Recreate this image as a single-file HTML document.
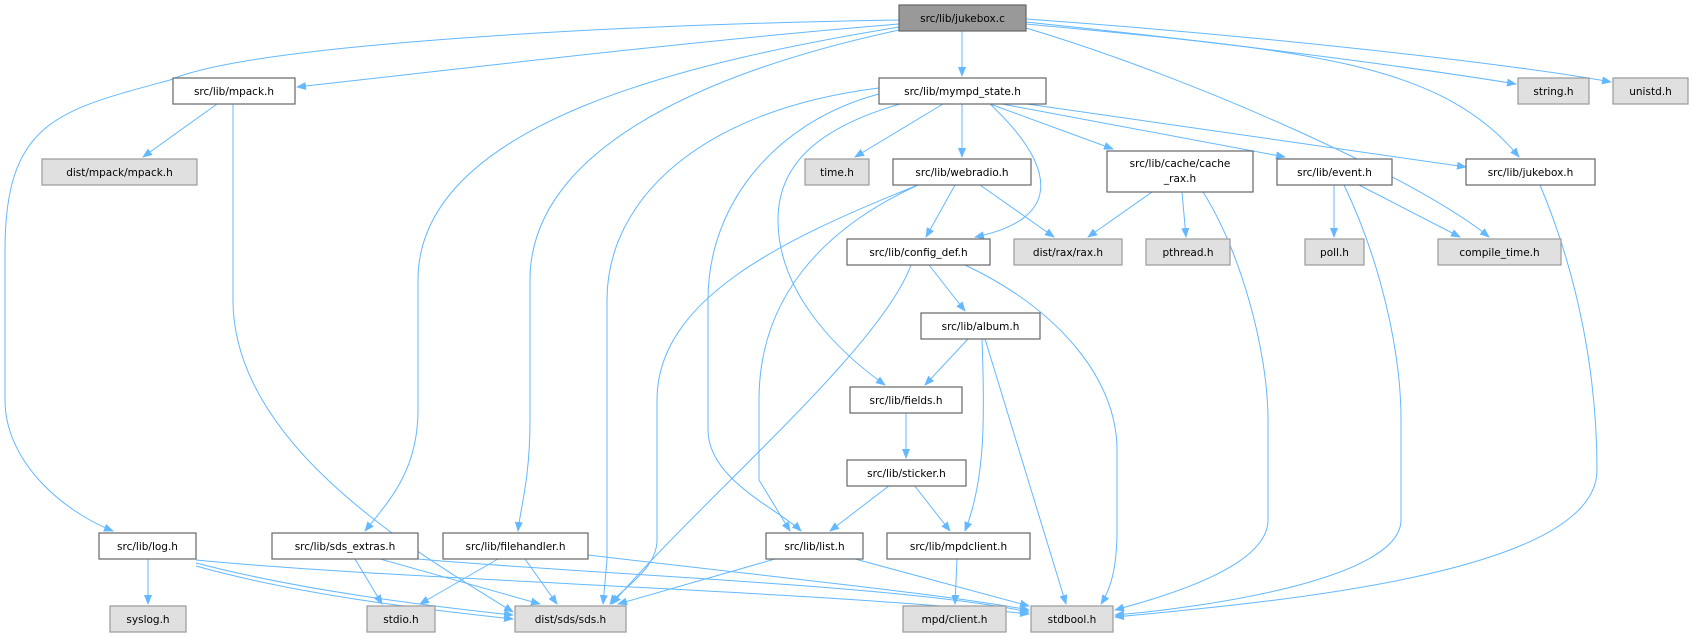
<!DOCTYPE html>
<html><head><meta charset="utf-8"><style>
html,body{margin:0;padding:0;background:#fff;}
svg{display:block;}
text{font-family:"DejaVu Sans","Liberation Sans",sans-serif;font-size:10.5px;fill:#000;}
.e{fill:none;stroke:#63b8ff;stroke-width:1;marker-end:url(#a);}
.w{fill:#fff;stroke:#666;stroke-width:1.2;}
.g{fill:#e0e0e0;stroke:#999;stroke-width:1.2;}
</style></head><body>
<svg width="1693" height="637" viewBox="0 0 1693 637" xmlns="http://www.w3.org/2000/svg">
<defs><marker id="a" markerWidth="10" markerHeight="8" refX="9" refY="4" orient="auto" markerUnits="userSpaceOnUse"><path d="M0,0 L10,4 L0,8 z" fill="#63b8ff"/></marker></defs>
<g>
<path class="e" d="M899,20 C600,25 250,45 170,80 C60,110 5,120 5,250 L5,400 C5,460 60,510 113,531"/>
<path class="e" d="M899,24 C700,40 450,70 297,87"/>
<path class="e" d="M899,27 C700,60 418,120 418,280 L418,410 C418,470 390,500 365,531"/>
<path class="e" d="M899,30 C760,60 530,130 530,280 L530,420 C530,480 520,510 518,531"/>
<path class="e" d="M962,31 L962,76"/>
<path class="e" d="M1026,22 C1200,40 1400,65 1516,84"/>
<path class="e" d="M1026,19 C1250,35 1500,62 1611,82"/>
<path class="e" d="M1026,24 C1300,50 1440,60 1519,157"/>
<path class="e" d="M1026,28 C1200,80 1420,180 1489,237"/>
<path class="e" d="M217,104 L143,157"/>
<path class="e" d="M233,104 L233,300 C233,450 430,560 513,612"/>
<path class="e" d="M943,104 L855,157"/>
<path class="e" d="M962,104 L962,157"/>
<path class="e" d="M990,104 L1113,149"/>
<path class="e" d="M1002,104 L1285,157"/>
<path class="e" d="M1027,104 L1466,167"/>
<path class="e" d="M990,104 C1060,170 1060,220 975,237"/>
<path class="e" d="M900,104 C810,130 778,170 778,220 C778,300 850,360 885,385"/>
<path class="e" d="M879,94 C780,120 708,200 708,300 L708,430 C708,480 780,510 801,531"/>
<path class="e" d="M879,88 C700,110 607,200 607,300 L607,560 L603,604"/>
<path class="e" d="M955,185 L926,237"/>
<path class="e" d="M980,185 L1054,237"/>
<path class="e" d="M918,185 C780,240 657,300 657,400 L657,540 C657,570 620,590 610,604"/>
<path class="e" d="M918,185 C820,230 759,300 759,400 L759,480 L790,531"/>
<path class="e" d="M1152,192 L1088,237"/>
<path class="e" d="M1182,192 L1186,237"/>
<path class="e" d="M1203,192 C1240,250 1268,350 1268,420 L1268,520 C1268,570 1150,600 1115,610"/>
<path class="e" d="M1334,185 L1334,237"/>
<path class="e" d="M1359,185 L1460,237"/>
<path class="e" d="M1344,185 C1380,260 1401,350 1401,420 L1401,520 C1401,580 1200,608 1115,615"/>
<path class="e" d="M1540,185 C1580,280 1597,380 1597,470 C1597,570 1300,600 1115,617"/>
<path class="e" d="M929,265 L965,311"/>
<path class="e" d="M911,265 C880,350 700,500 612,604"/>
<path class="e" d="M965,265 C1060,310 1117,380 1117,450 L1117,530 C1117,570 1110,590 1101,604"/>
<path class="e" d="M968,339 L925,385"/>
<path class="e" d="M982,339 C985,420 985,480 965,531"/>
<path class="e" d="M985,339 L1066,604"/>
<path class="e" d="M906,412 L906,458"/>
<path class="e" d="M890,485 L830,531"/>
<path class="e" d="M914,485 L950,531"/>
<path class="e" d="M148,559 L148,604"/>
<path class="e" d="M196,563 C300,590 420,605 513,615"/>
<path class="e" d="M196,566 C300,595 420,609 513,619"/>
<path class="e" d="M196,560 C400,580 800,590 1029,614"/>
<path class="e" d="M355,559 L382,604"/>
<path class="e" d="M380,559 L540,604"/>
<path class="e" d="M418,559 C600,575 900,585 1029,612"/>
<path class="e" d="M498,559 L420,604"/>
<path class="e" d="M525,559 L557,604"/>
<path class="e" d="M588,555 C800,580 950,595 1029,610"/>
<path class="e" d="M775,559 L618,604"/>
<path class="e" d="M855,559 L1029,606"/>
<path class="e" d="M957,559 L955,604"/>
</g>
<g text-anchor="middle">
<rect x="899" y="5" width="127" height="26" fill="#999" stroke="#666" stroke-width="1.2"/><text x="962.5" y="22">src/lib/jukebox.c</text>
<rect class="w" x="879" y="78" width="167" height="26"/><text x="962.5" y="95">src/lib/mympd_state.h</text>
<rect class="g" x="1518" y="78" width="71" height="26"/><text x="1553.5" y="95">string.h</text>
<rect class="g" x="1613" y="78" width="75" height="26"/><text x="1650.5" y="95">unistd.h</text>
<rect class="w" x="173" y="78" width="122" height="26"/><text x="234" y="95">src/lib/mpack.h</text>
<rect class="g" x="42" y="159" width="155" height="26"/><text x="119.5" y="176">dist/mpack/mpack.h</text>
<rect class="g" x="805" y="159" width="64" height="26"/><text x="837" y="176">time.h</text>
<rect class="w" x="893" y="159" width="138" height="26"/><text x="962" y="176">src/lib/webradio.h</text>
<rect class="w" x="1107" y="151" width="146" height="41"/><text x="1180" y="167">src/lib/cache/cache</text><text x="1180" y="182">_rax.h</text>
<rect class="w" x="1277" y="159" width="115" height="26"/><text x="1334.5" y="176">src/lib/event.h</text>
<rect class="w" x="1466" y="159" width="129" height="26"/><text x="1530.5" y="176">src/lib/jukebox.h</text>
<rect class="w" x="847" y="239" width="143" height="26"/><text x="918.5" y="256">src/lib/config_def.h</text>
<rect class="g" x="1014" y="239" width="108" height="26"/><text x="1068" y="256">dist/rax/rax.h</text>
<rect class="g" x="1146" y="239" width="84" height="26"/><text x="1188" y="256">pthread.h</text>
<rect class="g" x="1305" y="239" width="59" height="26"/><text x="1334.5" y="256">poll.h</text>
<rect class="g" x="1438" y="239" width="123" height="26"/><text x="1499.5" y="256">compile_time.h</text>
<rect class="w" x="921" y="313" width="119" height="26"/><text x="980.5" y="330">src/lib/album.h</text>
<rect class="w" x="850" y="387" width="112" height="26"/><text x="906" y="404">src/lib/fields.h</text>
<rect class="w" x="847" y="460" width="119" height="26"/><text x="906.5" y="477">src/lib/sticker.h</text>
<rect class="w" x="99" y="533" width="97" height="26"/><text x="147.5" y="550">src/lib/log.h</text>
<rect class="w" x="272" y="533" width="146" height="26"/><text x="345" y="550">src/lib/sds_extras.h</text>
<rect class="w" x="443" y="533" width="145" height="26"/><text x="515.5" y="550">src/lib/filehandler.h</text>
<rect class="w" x="766" y="533" width="97" height="26"/><text x="814.5" y="550">src/lib/list.h</text>
<rect class="w" x="887" y="533" width="143" height="26"/><text x="958.5" y="550">src/lib/mpdclient.h</text>
<rect class="g" x="110" y="606" width="76" height="26"/><text x="148" y="623">syslog.h</text>
<rect class="g" x="367" y="606" width="68" height="26"/><text x="401" y="623">stdio.h</text>
<rect class="g" x="515" y="606" width="111" height="26"/><text x="570.5" y="623">dist/sds/sds.h</text>
<rect class="g" x="903" y="606" width="103" height="26"/><text x="954.5" y="623">mpd/client.h</text>
<rect class="g" x="1031" y="606" width="82" height="26"/><text x="1072" y="623">stdbool.h</text>
</g>
</svg>
</body></html>
